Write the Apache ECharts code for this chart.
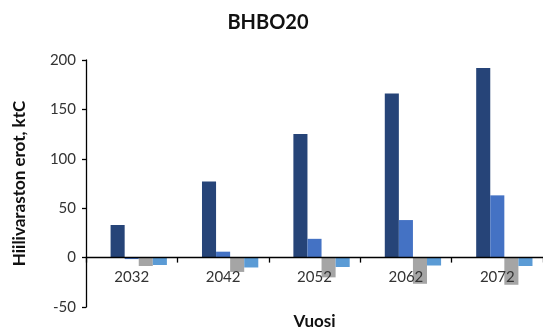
<!DOCTYPE html>
<html>
<head>
<meta charset="utf-8">
<script src="https://cdn.jsdelivr.net/npm/echarts@6/dist/echarts.min.js"></script>
<style>
  html, body { margin: 0; padding: 0; background: #fff; }
  #chart { width: 543px; height: 331px; }
</style>
</head>
<body>
<div id="chart"></div>
<script>
// Carbon stock differences by year (ktC)
const years = ['2032', '2042', '2052', '2062', '2072'];
const reserved = [null, null, null, null, null];   // empty first series slot
const seriesA = [33, 77, 125, 166, 192];
const seriesB = [-1.5, 6, 19, 38, 63];
const seriesC = [-8.5, -14.5, -20, -26.5, -27.5];
const seriesD = [-7.5, -10, -9.5, -8, -8.5];
const yTicks = { min: -50, max: 200, step: 50 };

const font = 'Lato, "Open Sans", sans-serif';
const gridTop = 60, gridBottom = 24, chartH = 331;
// distance from the plot bottom (y = min) up to the zero line
const zeroLift = (chartH - gridTop - gridBottom) * (0 - yTicks.min) / (yTicks.max - yTicks.min);

const chart = echarts.init(document.getElementById('chart'));

function bar(name, data, color) {
  return {
    name, type: 'bar', data,
    barGap: '0%', barCategoryGap: '23%',
    itemStyle: { color },
    animation: false
  };
}

chart.setOption({
  animation: false,
  title: {
    text: 'BHBO20', left: 263, top: 8, textAlign: 'center',
    textStyle: { fontFamily: font, fontWeight: 'bold', fontSize: 20, color: '#111' }
  },
  grid: { left: 86, right: 0, top: gridTop, bottom: gridBottom, containLabel: false, outerBoundsMode: 'none' },
  xAxis: {
    type: 'category', data: years, position: 'bottom',
    offset: -zeroLift, z: 5,
    name: 'Vuosi', nameLocation: 'middle', nameGap: 55,
    nameTextStyle: { fontFamily: font, fontWeight: 'bold', fontSize: 17, color: '#111' },
    axisLine: { onZero: false, lineStyle: { color: '#000', width: 1.3 } },
    axisTick: { show: true, alignWithLabel: false, length: 5, lineStyle: { color: '#000', width: 1.3 } },
    axisLabel: { fontFamily: font, fontSize: 15, color: '#333', margin: 12 }
  },
  yAxis: {
    type: 'value', min: yTicks.min, max: yTicks.max, interval: yTicks.step,
    name: 'Hiilivaraston erot, ktC', nameLocation: 'middle', nameGap: 58, nameRotate: 90,
    nameTextStyle: { fontFamily: font, fontWeight: 'bold', fontSize: 17, color: '#111' },
    axisLine: { show: true, onZero: false, lineStyle: { color: '#000', width: 1.3 } },
    axisTick: { show: true, length: 4, lineStyle: { color: '#000', width: 1.3 } },
    axisLabel: { fontFamily: font, fontSize: 15, color: '#333', margin: 10 },
    splitLine: { show: false }
  },
  series: [
    bar('—', reserved, '#ffffff'),
    bar('A', seriesA, '#264478'),
    bar('B', seriesB, '#4472C4'),
    bar('C', seriesC, '#A5A5A5'),
    bar('D', seriesD, '#5B9BD5')
  ]
});
</script>
</body>
</html>
